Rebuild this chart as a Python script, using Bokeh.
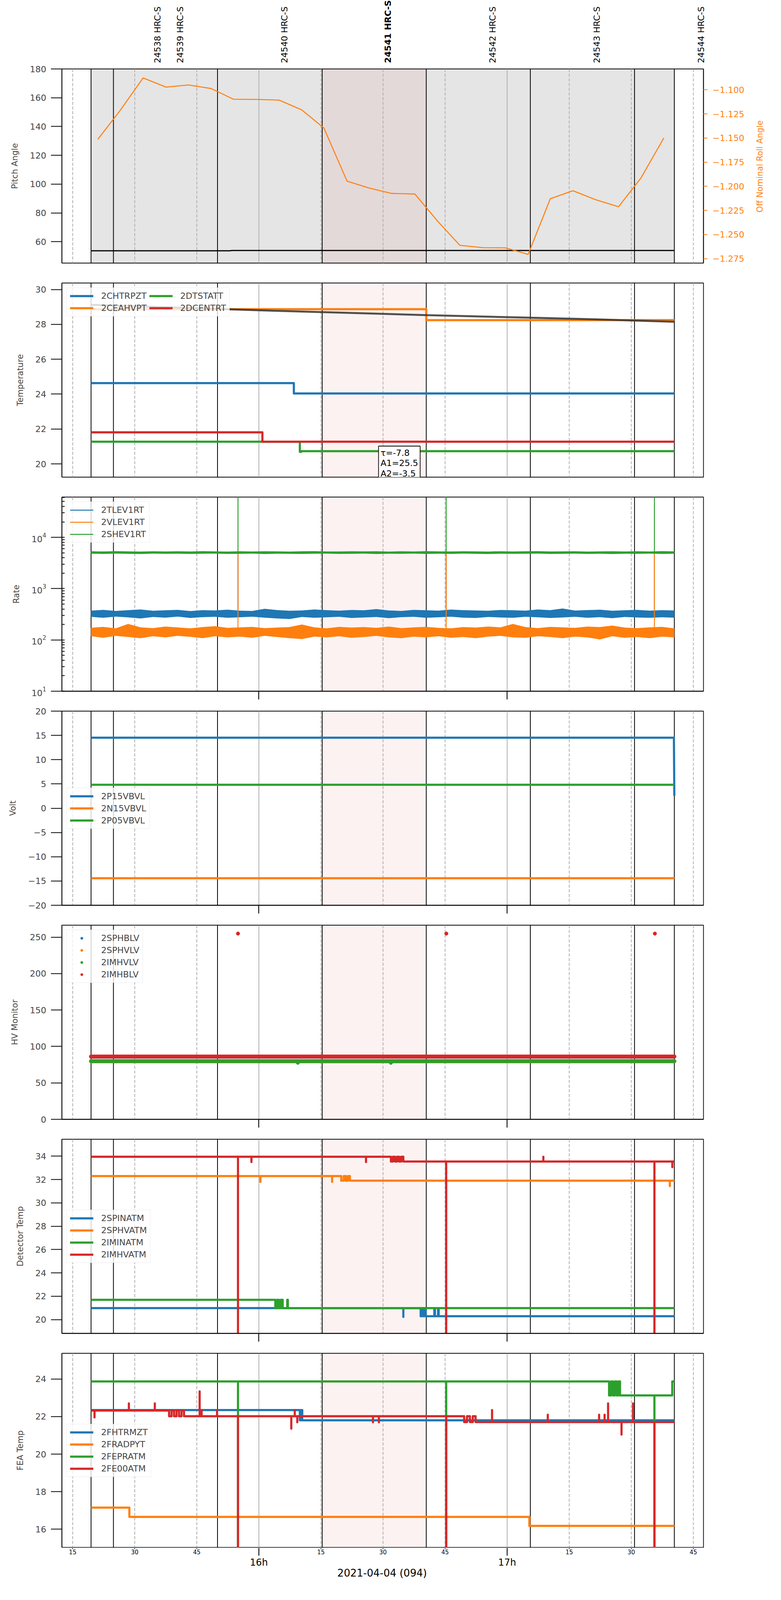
import math
from bokeh.plotting import figure
from bokeh.models import (Range1d, LinearAxis, FixedTicker, Span, BoxAnnotation, Label,
                          Legend, LegendItem, CustomJSTickFormatter)
from bokeh.layouts import column, row
from bokeh.embed import file_html
from bokeh.resources import INLINE

FONT = "DejaVu Sans"
C0, C1, C2, C3 = "#1f77b4", "#ff7f0e", "#2ca02c", "#d62728"

# ------------------------------------------------------------------ data
# time is given in minutes after 2021-04-04 15:00 UT
t_start, t_end = 19.44, 160.40
obs_edges = [19.44, 24.85, 50.00, 75.30, 100.45, 125.60, 150.78, 160.40]
cur_obs = [75.30, 100.45]
obs_names = ["24538 HRC-S", "24539 HRC-S", "24540 HRC-S", "24541 HRC-S",
             "24542 HRC-S", "24543 HRC-S", "24544 HRC-S"]
obs_label_t = [35.50, 41.01, 66.14, 91.24, 116.47, 141.66, 166.91]
cur_obs_name = "24541 HRC-S"
quarter_t = [15, 30, 45, 75, 90, 105, 135, 150, 165]
quarter_lbl = ["15", "30", "45", "15", "30", "45", "15", "30", "45"]
hour_t = [60, 120]
hour_lbl = ["16h", "17h"]
date_lbl = "2021-04-04 (094)"

# panel 1 : pitch / off-nominal roll
pitch_t = [19.44, 53.0, 53.5, 160.40]
pitch_v = [53.7, 53.7, 53.9, 53.9]
roll_t = [21.06, 26.42, 32.02, 37.56, 42.97, 48.45, 53.87, 59.40, 64.88, 70.35, 75.71, 81.31, 86.67,
          92.09, 97.69, 103.23, 108.58, 114.12, 119.59, 125.07, 130.43, 135.90, 141.38, 146.92,
          152.34, 157.87]
roll_v = [-1.1514, -1.1217, -1.0877, -1.0972, -1.0950, -1.0987, -1.1098, -1.1100, -1.1107, -1.1208,
          -1.1396, -1.1947, -1.2019, -1.2074, -1.2080, -1.2363, -1.2612, -1.2636, -1.2638, -1.2706,
          -1.2129, -1.2046, -1.2139, -1.2212, -1.1914, -1.1499]

# panel 2 : temperatures (step change times / levels)
chtrpzt_t, chtrpzt_v = [19.44, 68.45], [24.63, 24.04]
ceahvpt_t, ceahvpt_v = [19.44, 100.45], [28.87, 28.24]
dtstatt_t, dtstatt_v = [19.44, 69.90, 70.20], [21.27, 20.69, 20.73]
dcentrt_t, dcentrt_v = [19.44, 60.85], [21.81, 21.27]
fit_t = [19.44, 63.6, 75.3, 100.5, 125.6, 141.3, 160.40]
fit_v = [29.12, 28.78, 28.70, 28.53, 28.38, 28.29, 28.15]
fit_text = "τ=-7.8\nA1=25.5\nA2=-3.5"

# panel 3 : rates (noise envelopes) and spikes
rate_t = [19.4, 22.4, 25.4, 28.4, 31.4, 34.4, 37.4, 40.4, 43.4, 46.4, 49.4, 52.4,
          55.4, 58.4, 61.4, 64.4, 67.4, 70.4, 73.4, 76.4, 79.4, 82.4, 85.4, 88.4,
          91.4, 94.4, 97.4, 100.4, 103.4, 106.4, 109.4, 112.4, 115.4, 118.4, 121.4, 124.4,
          127.4, 130.4, 133.4, 136.4, 139.4, 142.4, 145.4, 148.4, 151.4, 154.4, 157.4, 160.4]
tlev_hi = [372, 385, 368, 380, 392, 370, 378, 386, 365, 380, 376, 388,
           372, 368, 405, 382, 370, 376, 392, 380, 372, 384, 378, 400,
           375, 368, 386, 378, 372, 390, 380, 376, 370, 384, 378, 372,
           392, 380, 410, 374, 382, 388, 370, 378, 386, 372, 380, 376]
tlev_lo = [282, 270, 285, 275, 262, 280, 272, 285, 268, 278, 282, 270,
           276, 284, 272, 262, 255, 280, 270, 276, 282, 268, 274, 280,
           266, 278, 282, 270, 276, 284, 272, 268, 280, 274, 270, 282,
           276, 268, 274, 282, 270, 278, 266, 280, 274, 270, 276, 272]
vlev_hi = [172, 180, 168, 205, 176, 170, 182, 175, 168, 178, 185, 172,
           176, 180, 170, 174, 178, 200, 176, 168, 180, 174, 178, 172,
           182, 170, 176, 180, 172, 168, 178, 174, 182, 176, 205, 178,
           170, 180, 176, 172, 182, 178, 190, 174, 170, 176, 180, 168]
vlev_lo = [118, 110, 120, 114, 108, 118, 112, 120, 115, 108, 118, 112,
           116, 110, 120, 114, 108, 104, 116, 112, 118, 110, 114, 120,
           112, 108, 116, 112, 118, 110, 114, 108, 116, 120, 112, 110,
           118, 114, 108, 116, 112, 102, 118, 110, 114, 108, 116, 112]
shev_hi = [5350, 5300, 5380, 5320, 5290, 5360, 5310, 5340, 5300, 5370, 5320, 5290,
           5350, 5310, 5360, 5330, 5290, 5340, 5380, 5310, 5300, 5350, 5320, 5360,
           5290, 5340, 5310, 5370, 5330, 5300, 5350, 5320, 5290, 5360, 5310, 5340,
           5380, 5300, 5330, 5350, 5290, 5320, 5360, 5310, 5340, 5300, 5370, 5330]
shev_lo = [4800, 4760, 4820, 4780, 4740, 4810, 4770, 4800, 4750, 4790, 4820, 4760,
           4780, 4810, 4740, 4800, 4770, 4750, 4790, 4820, 4760, 4780, 4810, 4740,
           4800, 4770, 4820, 4750, 4790, 4760, 4810, 4780, 4740, 4800, 4770, 4790,
           4820, 4750, 4780, 4810, 4760, 4790, 4740, 4800, 4770, 4820, 4750, 4790]
spike_t = [54.95, 105.27, 155.59]
tlev_spk_base, tlev_spk_top = [320, 320, 320], [5000, 5000, 5000]
vlev_spk_base, vlev_spk_top = [140, 140, 140], [5000, 5000, 5000]
shev_spk_base, shev_spk_top = [5000, 5000, 5000], [200000, 200000, 200000]

# panel 4 : voltages
p15_t, p15_v = [19.44, 160.30, 160.40], [14.52, 14.52, 2.56]
n15_t, n15_v = [19.44, 160.40], [-14.43, -14.43]
p05_t, p05_v = [19.44, 160.40], [4.82, 4.82]

# panel 5 : HV monitors (level + isolated points)
sphblv_lvl, sphvlv_lvl, imhvlv_lvl, imhblv_lvl = 86.0, 79.6, 79.8, 86.2
imhvlv_pt_t, imhvlv_pt_v = [69.4, 91.9], [77.6, 77.6]
imhblv_pt_t, imhblv_pt_v = [54.95, 105.30, 155.70], [254.9, 254.9, 254.9]

# panel 6 : detector temperatures (steps + glitches)
spinatm_t = [19.44, 99.10, 99.40, 99.70, 100.00, 100.30, 102.40, 102.55, 103.30, 103.45]
spinatm_v = [20.99, 20.29, 20.99, 20.29, 20.99, 20.29, 20.99, 20.29, 20.99, 20.29]
spinatm_gt, spinatm_gv = [94.91], [20.23]
sphvatm_t = [19.44, 79.90, 80.50, 81.00, 81.50, 82.00]
sphvatm_v = [32.30, 31.90, 32.30, 31.90, 32.30, 31.90]
sphvatm_gt, sphvatm_gv = [60.37, 77.70, 159.32], [31.80, 31.80, 31.44]
iminatm_t = [19.44, 63.97, 64.40, 64.85, 65.30, 65.75, 66.85, 67.00]
iminatm_v = [21.70, 20.99, 21.70, 20.99, 21.70, 20.99, 21.70, 20.99]
imhvatm_t = [19.44, 91.91, 92.40, 92.90, 93.40, 93.90, 94.40, 94.91]
imhvatm_v = [33.95, 33.54, 33.95, 33.54, 33.95, 33.54, 33.95, 33.54]
imhvatm_gt = [58.20, 85.89, 128.75, 159.92, 54.95, 105.27, 155.59]
imhvatm_gv = [33.50, 33.50, 33.95, 33.06, 0.0, 0.0, 0.0]

# panel 7 : FEA temperatures (steps + glitches)
fhtrmzt_t, fhtrmzt_v = [19.44, 69.90, 70.20, 70.48], [22.35, 21.80, 22.35, 21.80]
fradpyt_t, fradpyt_v = [19.44, 28.70, 125.37], [17.15, 16.66, 16.18]
fepratm_t = [19.44, 144.63, 145.10, 145.55, 146.00, 146.45, 146.90, 147.28, 159.90]
fepratm_v = [23.87, 23.13, 23.87, 23.13, 23.87, 23.13, 23.87, 23.13, 23.87]
fepratm_gt, fepratm_gv = [54.95, 105.27, 155.59], [0.0, 0.0, 0.0]
fe00atm_t = [19.44, 38.30, 38.90, 39.50, 40.10, 40.70, 41.30, 41.90, 109.61, 110.30, 111.00,
             111.70, 112.37]
fe00atm_v = [22.32, 22.02, 22.32, 22.02, 22.32, 22.02, 22.32, 22.02, 21.71, 22.02, 21.71,
             22.02, 21.71]
fe00atm_gt = [20.28, 28.58, 34.85, 45.68, 46.16, 49.89, 67.83, 68.67, 69.28, 87.57, 89.01,
              116.35, 129.82, 142.22, 143.55, 144.39, 147.64, 150.42, 54.95, 105.27, 155.59]
fe00atm_gv = [21.96, 22.70, 22.70, 23.34, 22.35, 22.35, 21.36, 22.35, 21.70, 21.70, 21.70,
              22.35, 22.10, 22.10, 22.10, 22.70, 21.04, 22.70, 0.0, 0.0, 0.0]


# ------------------------------------------------------------------ helpers
def step_xy(tc, vl, tend, gt=(), gv=()):
    xs, ys = [], []
    gl = sorted(zip(gt, gv))
    for i in range(len(tc)):
        t0 = tc[i]
        t1 = tc[i + 1] if i + 1 < len(tc) else tend
        v = vl[i]
        xs.append(t0); ys.append(v)
        for g_t, g_v in gl:
            if t0 <= g_t < t1:
                xs += [g_t, g_t, g_t]; ys += [v, g_v, v]
        xs.append(t1); ys.append(v)
    return xs, ys


span_min = t_end - t_start
x_range = Range1d(t_start - 0.05 * span_min, t_end + 0.05 * span_min)

# geometry (the page is rendered into a window that shows about 4090 px of height)
FW, FH = 1643, 497
LB, RB = 158, 183
HEAD_H = 162
P1_TOP = 14
SIDE_W = 55
RB1 = RB - SIDE_W
FOOT_H = 80
TOP_GAP, BOT_GAP = 21, 30
PPM = FW / (x_range.end - x_range.start)          # pixels per minute
HEAD_EXTRA = 40

TICK_FS, AXL_FS, LEG_FS = "22px", "21px", "22px"
LW = 5.5

minus_fmt = CustomJSTickFormatter(code="return (tick < 0 ? '\u2212' : '') + Math.abs(tick).toString();")


def make_fig(y_range, top, bottom, log=False, right=RB):
    p = figure(frame_width=FW, frame_height=FH, x_range=x_range, y_range=y_range,
               y_axis_type="log" if log else "linear", output_backend="svg",
               toolbar_location=None, min_border_left=LB, min_border_right=right,
               min_border_top=top, min_border_bottom=bottom)
    p.xgrid.visible = False
    p.ygrid.visible = False
    p.outline_line_color = "black"
    p.outline_line_width = 1.8
    p.outline_line_alpha = 1
    p.background_fill_color = "white"
    p.border_fill_color = "white"
    return p


def blank_fig(xr, yr, fw, fh, left=0, right=0, top=0, bottom=0):
    p = figure(frame_width=fw, frame_height=fh, x_range=xr, y_range=yr,
               output_backend="svg", toolbar_location=None, x_axis_location=None,
               y_axis_location=None, min_border_left=left, min_border_right=right,
               min_border_top=top, min_border_bottom=bottom)
    p.xgrid.visible = False
    p.ygrid.visible = False
    p.outline_line_color = None
    p.background_fill_color = "white"
    p.border_fill_color = "white"
    return p


def style_y(ax, label, ticks=None, log=False):
    ax.axis_label = label
    ax.axis_label_text_font = FONT
    ax.axis_label_text_font_size = AXL_FS
    ax.axis_label_text_font_style = "normal"
    ax.axis_label_standoff = 24
    ax.major_label_text_font = FONT
    ax.major_label_text_font_size = TICK_FS
    ax.major_label_standoff = 12
    ax.major_tick_out = 28
    ax.major_tick_in = 0
    ax.major_tick_line_width = 2
    ax.axis_line_width = 1.8
    if log:
        ax.minor_tick_in = 7
        ax.minor_tick_out = 0
        ax.minor_tick_line_width = 1.8
    else:
        ax.ticker = FixedTicker(ticks=ticks)
        ax.formatter = minus_fmt
        ax.minor_tick_line_color = None


def style_x(p):
    ax = p.xaxis[0]
    ax.axis_line_width = 1.8
    ax.ticker = FixedTicker(ticks=[], minor_ticks=hour_t)
    ax.major_label_text_font_size = "0px"
    ax.minor_tick_out = 21
    ax.minor_tick_in = 0
    ax.minor_tick_line_width = 2.2
    ax.minor_tick_line_color = "black"


def add_vlines(p, shade_all=False):
    if shade_all:
        p.add_layout(BoxAnnotation(left=obs_edges[0], right=obs_edges[-1], fill_color="black",
                                   fill_alpha=0.1, line_color=None, level="underlay"))
    p.add_layout(BoxAnnotation(left=cur_obs[0], right=cur_obs[1], fill_color=C3,
                               fill_alpha=0.06, line_color=None, level="underlay"))
    for t in quarter_t:
        p.add_layout(Span(location=t, dimension="height", line_color="#b0b0b0",
                          line_width=2, line_dash="8 4", level="underlay"))
    for t in hour_t:
        p.add_layout(Span(location=t, dimension="height", line_color="#b0b0b0",
                          line_width=2, level="underlay"))
    for t in obs_edges:
        p.add_layout(Span(location=t, dimension="height", line_color="black",
                          line_width=2, level="underlay"))


def add_legend(p, items, location, ncols=None):
    lg = Legend(items=[LegendItem(label=l, renderers=[r]) for l, r in items],
                location=location)
    if ncols:
        lg.ncols = ncols
    lg.label_text_font = FONT
    lg.label_text_font_size = LEG_FS
    lg.glyph_width = 60
    lg.glyph_height = 15
    lg.label_standoff = 20
    lg.padding = 8
    lg.spacing = 6
    lg.margin = 12
    lg.border_line_color = "#d9d9d9"
    lg.border_line_width = 1.8
    lg.background_fill_alpha = 0.8
    p.add_layout(lg)


def sline(p, tc, vl, color, gt=(), gv=(), width=LW):
    xs, ys = step_xy(tc, vl, t_end, gt, gv)
    return p.line(xs, ys, line_color=color, line_width=width, line_join="round")


# ---------------- header with observation labels
head_x = Range1d(x_range.start, x_range.end + HEAD_EXTRA / PPM)
head = blank_fig(head_x, Range1d(0, HEAD_H), FW + HEAD_EXTRA, HEAD_H, left=LB,
                 right=RB - HEAD_EXTRA)
for name, t in zip(obs_names, obs_label_t):
    head.add_layout(Label(x=t, y=1, text=name, angle=math.pi / 2, text_align="left",
                          text_baseline="middle", text_font=FONT, text_font_size=LEG_FS,
                          text_font_style="bold" if name == cur_obs_name else "normal",
                          text_color="black"))

# ---------------- panel 1
y1 = Range1d(45.15, 180.0)
p1 = make_fig(y1, P1_TOP, BOT_GAP, right=RB1)
p1.extra_y_ranges = {"roll": Range1d(-1.2796, -1.0784)}
add_vlines(p1, shade_all=True)
style_y(p1.yaxis[0], "Pitch Angle", ticks=[60, 80, 100, 120, 140, 160, 180])
p1.xaxis.visible = False
rax = LinearAxis(y_range_name="roll")
rax.ticker = FixedTicker(ticks=[-1.275, -1.25, -1.225, -1.2, -1.175, -1.15, -1.125, -1.1])
rax.formatter = CustomJSTickFormatter(code="return (tick < 0 ? '\u2212' : '') + Math.abs(tick).toFixed(3);")
rax.major_label_text_font = FONT
rax.major_label_text_font_size = TICK_FS
rax.major_label_text_color = C1
rax.major_tick_line_color = C1
rax.major_tick_out = 10
rax.major_tick_in = 0
rax.major_tick_line_width = 1.8
rax.major_label_standoff = 13
rax.minor_tick_line_color = None
rax.axis_line_width = 1.8
p1.add_layout(rax, "right")
p1.line(pitch_t, pitch_v, line_color="black", line_width=3)
p1.line(roll_t, roll_v, line_color=C1, line_width=2.6, y_range_name="roll")

side = blank_fig(Range1d(0, SIDE_W), y1, SIDE_W, FH, top=P1_TOP, bottom=BOT_GAP)
side.add_layout(Label(x=16, y=112.3, text="Off Nominal Roll Angle", angle=math.pi / 2,
                      text_align="center", text_baseline="middle", text_font=FONT,
                      text_font_size=AXL_FS, text_color=C1))

# ---------------- panel 2
p2 = make_fig(Range1d(19.24, 30.37), TOP_GAP, BOT_GAP)
add_vlines(p2)
style_y(p2.yaxis[0], "Temperature", ticks=[20, 22, 24, 26, 28, 30])
p2.xaxis.visible = False
r_ch = sline(p2, chtrpzt_t, chtrpzt_v, C0)
r_ce = sline(p2, ceahvpt_t, ceahvpt_v, C1)
r_dt = sline(p2, dtstatt_t, dtstatt_v, C2)
r_dc = sline(p2, dcentrt_t, dcentrt_v, C3)
p2.line(fit_t, fit_v, line_color="#333333", line_alpha=0.85, line_width=5)
add_legend(p2, [("2CHTRPZT", r_ch), ("2CEAHVPT", r_ce), ("2DTSTATT", r_dt), ("2DCENTRT", r_dc)],
           "top_left", ncols=2)
p2.add_layout(Label(x=88.92, y=21.02, text=fit_text, text_align="left", text_baseline="top",
                    text_font=FONT, text_font_size=LEG_FS, text_color="black",
                    text_line_height=1.05,
                    background_fill_color="white", border_line_color="black",
                    border_line_width=1.8, padding=5))

# ---------------- panel 3
p3 = make_fig(Range1d(10, 60950), TOP_GAP, BOT_GAP, log=True)
add_vlines(p3)
style_y(p3.yaxis[0], "Rate", log=True)
style_x(p3)
p3.varea(x=rate_t, y1=tlev_lo, y2=tlev_hi, fill_color=C0)
r_tl = p3.segment(x0=spike_t, y0=tlev_spk_base, x1=spike_t, y1=tlev_spk_top, line_color=C0,
                  line_width=2.4)
p3.varea(x=rate_t, y1=vlev_lo, y2=vlev_hi, fill_color=C1)
r_vl = p3.segment(x0=spike_t, y0=vlev_spk_base, x1=spike_t, y1=vlev_spk_top, line_color=C1,
                  line_width=2.4)
p3.varea(x=rate_t, y1=shev_lo, y2=shev_hi, fill_color=C2)
r_sh = p3.segment(x0=spike_t, y0=shev_spk_base, x1=spike_t, y1=shev_spk_top, line_color=C2,
                  line_width=2.4)
add_legend(p3, [("2TLEV1RT", r_tl), ("2VLEV1RT", r_vl), ("2SHEV1RT", r_sh)], "top_left")

# ---------------- panel 4
p4 = make_fig(Range1d(-20, 20), TOP_GAP, BOT_GAP)
add_vlines(p4)
style_y(p4.yaxis[0], "Volt", ticks=[-20, -15, -10, -5, 0, 5, 10, 15, 20])
style_x(p4)
r_p15 = p4.line(p15_t, p15_v, line_color=C0, line_width=LW, line_join="round")
r_n15 = p4.line(n15_t, n15_v, line_color=C1, line_width=LW)
r_p05 = p4.line(p05_t, p05_v, line_color=C2, line_width=LW)
add_legend(p4, [("2P15VBVL", r_p15), ("2N15VBVL", r_n15), ("2P05VBVL", r_p05)], "left")

# ---------------- panel 5
p5 = make_fig(Range1d(0, 266.4), TOP_GAP, BOT_GAP)
add_vlines(p5)
style_y(p5.yaxis[0], "HV Monitor", ticks=[0, 50, 100, 150, 200, 250])
style_x(p5)
hv_items = []
for name, lvl, pt_t, pt_v, col in [("2SPHBLV", sphblv_lvl, [], [], C0),
                                    ("2SPHVLV", sphvlv_lvl, [], [], C1),
                                    ("2IMHVLV", imhvlv_lvl, imhvlv_pt_t, imhvlv_pt_v, C2),
                                    ("2IMHBLV", imhblv_lvl, imhblv_pt_t, imhblv_pt_v, C3)]:
    p5.segment(x0=[t_start], y0=[lvl], x1=[t_end], y1=[lvl], line_color=col, line_width=10,
               line_cap="round")
    r = p5.scatter(x=[t_start, t_end] + pt_t, y=[lvl, lvl] + pt_v, size=9, fill_color=col,
                   line_color=col)
    hv_items.append((name, r))
add_legend(p5, hv_items, "top_left")

# ---------------- panel 6
p6 = make_fig(Range1d(18.82, 35.45), TOP_GAP, BOT_GAP)
add_vlines(p6)
style_y(p6.yaxis[0], "Detector Temp", ticks=[20, 22, 24, 26, 28, 30, 32, 34])
style_x(p6)
r_sp = sline(p6, spinatm_t, spinatm_v, C0, spinatm_gt, spinatm_gv)
r_sv = sline(p6, sphvatm_t, sphvatm_v, C1, sphvatm_gt, sphvatm_gv)
r_im = sline(p6, iminatm_t, iminatm_v, C2)
r_ih = sline(p6, imhvatm_t, imhvatm_v, C3, imhvatm_gt, imhvatm_gv)
add_legend(p6, [("2SPINATM", r_sp), ("2SPHVATM", r_sv), ("2IMINATM", r_im), ("2IMHVATM", r_ih)],
           "left")

# ---------------- panel 7
p7 = make_fig(Range1d(15.03, 25.37), TOP_GAP, 1)
add_vlines(p7)
style_y(p7.yaxis[0], "FEA Temp", ticks=[16, 18, 20, 22, 24])
p7.xaxis.visible = False
r_fh = sline(p7, fhtrmzt_t, fhtrmzt_v, C0)
r_fr = sline(p7, fradpyt_t, fradpyt_v, C1)
r_fe = sline(p7, fepratm_t, fepratm_v, C2, fepratm_gt, fepratm_gv)
r_f0 = sline(p7, fe00atm_t, fe00atm_v, C3, fe00atm_gt, fe00atm_gv)
add_legend(p7, [("2FHTRMZT", r_fh), ("2FRADPYT", r_fr), ("2FEPRATM", r_fe), ("2FE00ATM", r_f0)],
           "left")

# ---------------- time axis below the last panel (ticks, labels and date)
foot = blank_fig(x_range, Range1d(0, FOOT_H), FW, FOOT_H, left=LB, right=RB)
foot.segment(x0=hour_t, y0=[FOOT_H] * len(hour_t), x1=hour_t, y1=[FOOT_H - 20] * len(hour_t),
             line_color="black", line_width=2.2)
foot.segment(x0=quarter_t, y0=[FOOT_H] * len(quarter_t), x1=quarter_t,
             y1=[FOOT_H - 3] * len(quarter_t), line_color="black", line_width=1.8)
for t, s in zip(quarter_t, quarter_lbl):
    foot.add_layout(Label(x=t, y=FOOT_H - 10, text=s, text_align="center",
                          text_baseline="middle", text_font=FONT, text_font_size="15px",
                          text_color="black"))
for t, s in zip(hour_t, hour_lbl):
    foot.add_layout(Label(x=t, y=FOOT_H - 37, text=s, text_align="center", text_baseline="middle",
                          text_font=FONT, text_font_size="24px", text_color="black"))
foot.add_layout(Label(x=x_range.start + (986 - 166) / PPM, y=FOOT_H - 64,
                      text=date_lbl, text_align="center", text_baseline="middle",
                      text_font=FONT, text_font_size="26px", text_color="black"))

layout = column(head, row(p1, side, spacing=0), p2, p3, p4, p5, p6, p7, foot, spacing=0)
with open("out.html", "w", encoding="utf-8") as f:
    f.write(file_html(layout, INLINE))
